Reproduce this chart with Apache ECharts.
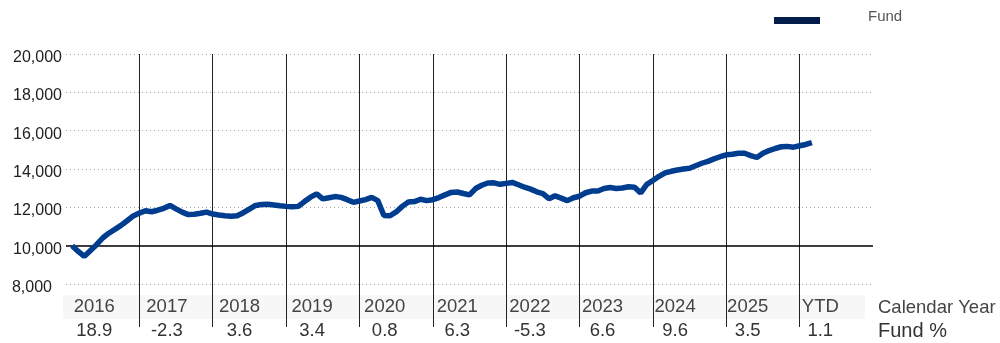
<!DOCTYPE html>
<html><head><meta charset="utf-8">
<script src="https://cdn.jsdelivr.net/npm/echarts@6/dist/echarts.min.js"></script>
<style>html,body{margin:0;padding:0;background:#fff}#c{width:1000px;height:343px}</style>
</head><body><div id="c"></div>
<script>
// Growth of 10,000 — month-end values starting end of Jan 2016 (month index 1)
const growthValues = [
  10000, 9700, 9440, 9750, 10050, 10400, 10650, 10850, 11060, 11300, 11550, 11700,
  11820, 11770, 11850, 11950, 12100, 11920, 11750, 11620, 11640, 11690, 11750, 11650,
  11600, 11560, 11540, 11560, 11720, 11910, 12100, 12150, 12160, 12120, 12080, 12050,
  12030, 12050, 12300, 12530, 12700, 12440, 12500, 12560, 12520, 12400, 12260, 12330,
  12400, 12520, 12350, 11570, 11560, 11760, 12050, 12280, 12300, 12420, 12350, 12400,
  12510, 12650, 12780, 12800, 12720, 12650, 12980, 13150, 13270, 13280, 13200, 13250,
  13300, 13180, 13050, 12950, 12810, 12720, 12450, 12600, 12480, 12350, 12500, 12580,
  12760, 12850, 12850, 12980, 13030, 12980, 13010, 13070, 13050, 12750, 13200, 13400,
  13620, 13800, 13880, 13950, 14000, 14040, 14170, 14300, 14400, 14530, 14640, 14740,
  14770, 14820, 14820, 14700, 14600, 14820, 14960, 15070, 15160, 15180, 15140, 15210,
  15280, 15380
];
const periodLabels = ['2016','2017','2018','2019','2020','2021','2022','2023','2024','2025','YTD'];
const fundReturns = ['18.9','-2.3','3.6','3.4','0.8','6.3','-5.3','6.6','9.6','3.5','1.1'];
const yTicks = [8000, 10000, 12000, 14000, 16000, 18000, 20000];
const rowTitles = ['Calendar Year', 'Fund %'];
const seriesName = 'Fund';

const yMin = yTicks[0], yMax = yTicks[yTicks.length - 1], yStep = yTicks[1] - yTicks[0];
const monthsPerPeriod = 12;
const xMax = periodLabels.length * monthsPerPeriod;
const lineData = growthValues.map((v, i) => [i + 1, v]);
const FONT = '"Liberation Sans", Arial, sans-serif';

const chart = echarts.init(document.getElementById('c'));
chart.setOption({
  animation: false,
  textStyle: { fontFamily: FONT },
  legend: {
    left: 774, top: 9.5, padding: 0,
    icon: 'rect', itemWidth: 46, itemHeight: 7,
    data: [{ name: seriesName, itemStyle: { color: '#021d4b' } }],
    formatter: n => '{a|' + n + '}',
    textStyle: {
      fontSize: 15, color: '#555', fontFamily: FONT,
      rich: { a: { fontSize: 15, color: '#555', fontFamily: FONT, padding: [0, 0, 7, 43] } }
    }
  },
  grid: [
    { left: 66, right: 127, top: 54, height: 230 },
    { left: 58, width: 798.6, top: 294, height: 1 },
    { left: 66, right: 127, top: 54, height: 273 }
  ],
  xAxis: [
    { type: 'value', gridIndex: 0, min: 0, max: xMax, interval: monthsPerPeriod,
      axisLine: { show: false }, axisTick: { show: false }, axisLabel: { show: false }, splitLine: { show: false } },
    { type: 'category', gridIndex: 1, data: periodLabels,
      axisLine: { show: false }, axisTick: { show: false },
      axisLabel: {
        interval: 0, margin: 0,
        formatter: (v, i) => '{y|' + v + '}\n{p|' + fundReturns[i] + '}',
        rich: {
          y: { fontSize: 18.5, lineHeight: 23, color: '#444', fontFamily: FONT },
          p: { fontSize: 18.5, lineHeight: 25, color: '#333', fontFamily: FONT }
        }
      } },
    { type: 'value', gridIndex: 2, min: 0, max: xMax, interval: monthsPerPeriod, z: 3,
      axisLine: { show: false }, axisTick: { show: false }, axisLabel: { show: false },
      splitLine: { show: true, showMinLine: false, showMaxLine: false, lineStyle: { color: '#222', width: 1 } } }
  ],
  yAxis: [
    { type: 'value', gridIndex: 0, min: yMin, max: yMax, interval: yStep,
      axisLine: { show: false }, axisTick: { show: false },
      axisLabel: {
        margin: 4, fontSize: 16, color: '#222', fontFamily: FONT, padding: [7, 0, 0, 0],
        formatter: v => {
          const s = v.toLocaleString('en-US');
          return v === yMin ? '{s|' + s + '}' : s;
        },
        rich: { s: { fontSize: 16, color: '#222', fontFamily: FONT, padding: [0, 10, 0, 0] } }
      },
      splitLine: { show: true, lineStyle: { type: [1, 3], color: '#aaa', width: 1 } } },
    { type: 'value', gridIndex: 1, show: false, min: 0, max: 1 },
    { type: 'value', gridIndex: 2, show: false, min: 0, max: 1 }
  ],
  graphic: [
    { type: 'rect', z: -10, shape: { x: 63, y: 295, width: 802, height: 24 }, style: { fill: '#f7f7f7' } },
    { type: 'text', left: 878, top: 298, style: { text: rowTitles[0], fontSize: 18.5, fill: '#444', fontFamily: FONT } },
    { type: 'text', left: 878, top: 321, style: { text: rowTitles[1], fontSize: 20, fill: '#333', fontFamily: FONT } }
  ],
  series: [{
    name: seriesName, type: 'line', xAxisIndex: 0, yAxisIndex: 0,
    data: lineData, showSymbol: false, symbol: 'none',
    lineStyle: { color: '#003d8f', width: 5.5 }, itemStyle: { color: '#003d8f' }, z: 5,
    markLine: {
      silent: true, symbol: 'none', label: { show: false },
      lineStyle: { color: '#000', type: 'solid', width: 1.5 },
      data: [{ yAxis: 10000 }]
    }
  }]
});
</script></body></html>
